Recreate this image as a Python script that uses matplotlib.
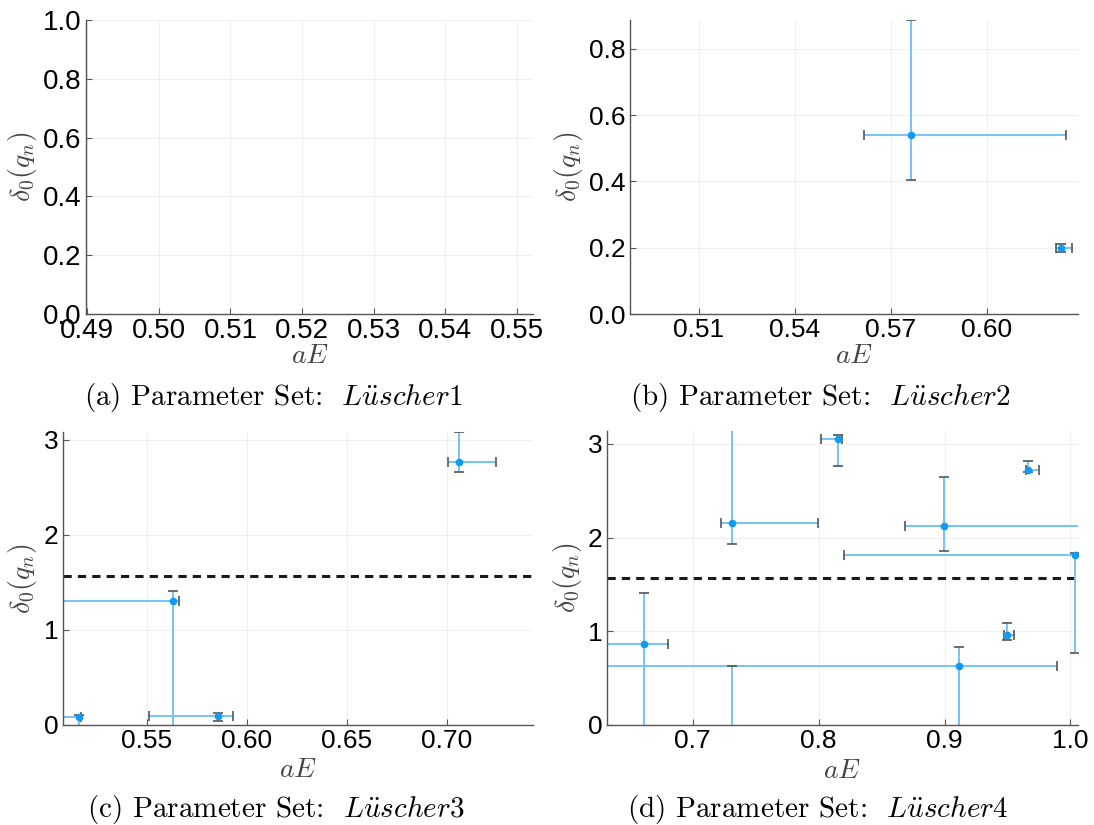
import numpy as np
import matplotlib.pyplot as plt
from matplotlib.ticker import FormatStrFormatter
from matplotlib.transforms import Bbox, TransformedBbox

plt.rcParams['font.family'] = ['Liberation Sans', 'DejaVu Sans']
plt.rcParams['mathtext.fontset'] = 'cm'

# phase shift delta_0(q_n) against aE, with asymmetric errors (minus / plus)
# Lüscher2
x2 = [0.5762, 0.6233]
y2 = [0.541, 0.198]
x2_lo = [0.0146, 0.0016]
x2_hi = [0.0487, 0.0033]
y2_lo = [0.137, 0.012]
y2_hi = [0.346, 0.012]

# Lüscher3
x3 = [0.5161, 0.5628, 0.5857, 0.7063]
y3 = [0.085, 1.303, 0.097, 2.765]
x3_lo = [0.012, 0.060, 0.0345, 0.0058]
x3_hi = [0.001, 0.0033, 0.0072, 0.0184]
y3_lo = [0.100, 1.400, 0.052, 0.108]
y3_hi = [0.025, 0.102, 0.032, 0.313]

# Lüscher4
x4 = [0.6614, 0.7311, 0.8156, 0.8994, 1.0039, 0.9497, 0.9664, 0.9117, 0.7311]
y4 = [0.869, 2.151, 3.049, 2.126, 1.814, 0.962, 2.719, 0.628, -0.300]
x4_lo = [0.040, 0.0086, 0.0139, 0.0309, 0.1836, 0.0022, 0.0020, 0.300, 0.0]
x4_hi = [0.0186, 0.0687, 0.0027, 0.150, 0.0050, 0.0056, 0.0086, 0.0775, 0.0]
y4_lo = [0.900, 0.217, 0.288, 0.273, 1.041, 0.057, 0.021, 0.700, 0.200]
y4_hi = [0.543, 1.200, 0.046, 0.518, 0.018, 0.124, 0.099, 0.203, 0.928]

resonance = np.pi / 2

line_blue = '#74c4f4'
dot_blue = '#0f9bf2'
cap_grey = '#555555'
axis_grey = '#555555'

W, H = 1094, 825
fig = plt.figure(figsize=(W / 100, H / 100), dpi=100)


def px_axes(left, top, right, bottom):
    return fig.add_axes([left / W, 1 - bottom / H, (right - left) / W, (bottom - top) / H])


def style(ax, size):
    for side in ['top', 'right']:
        ax.spines[side].set_visible(False)
    for side in ['left', 'bottom']:
        ax.spines[side].set_color(axis_grey)
        ax.spines[side].set_linewidth(1.0)
    ax.grid(True, color='#f0f0f0', lw=0.8)
    ax.set_axisbelow(True)
    ax.tick_params(direction='in', length=4, color=axis_grey, labelsize=size, pad=3)


def draw_points(ax, x, y, xlo, xhi, ylo, yhi):
    x, y = np.asarray(x), np.asarray(y)
    xlo, xhi = np.asarray(xlo), np.asarray(xhi)
    ylo, yhi = np.asarray(ylo), np.asarray(yhi)
    ax.errorbar(x, y, xerr=[xlo, xhi], yerr=[ylo, yhi], fmt='none',
                ecolor=line_blue, elinewidth=1.4, capsize=0, zorder=2)
    caps = dict(ls='none', ms=7, mew=1.2, color=cap_grey, zorder=3)
    ax.plot(x - xlo, y, marker='|', **caps)
    ax.plot(x + xhi, y, marker='|', **caps)
    ax.plot(x, y - ylo, marker='_', **caps)
    ax.plot(x, y + yhi, marker='_', **caps)
    ax.plot(x, y, 'o', ms=4.5, color=dot_blue, zorder=4)


def labels(ax, xl_y, yl_x, clip_px):
    ax.set_xlabel('$aE$', fontsize=20, color='#444444')
    ax.set_ylabel(r'$\delta_0(q_n)$', fontsize=20, color='#444444')
    ax.xaxis.label.set(va='center', ha='center')
    ax.yaxis.label.set(va='center', ha='center')
    ax.xaxis.set_label_coords(0.5, xl_y)
    ax.yaxis.set_label_coords(yl_x, 0.5)
    box = TransformedBbox(Bbox.from_extents(0, 1 - clip_px / H, 1, 1), fig.transFigure)
    ax.xaxis.label.set_clip_box(box)
    ax.xaxis.label.set_clip_on(True)


# (a) Lüscher1: no data points
ax1 = px_axes(86, 20, 533, 314)
style(ax1, 20)
ax1.set_xlim(0.4898, 0.5523)
ax1.set_ylim(0, 1.0)
ax1.set_xticks(np.arange(0.49, 0.5505, 0.01))
ax1.set_yticks(np.arange(0, 1.01, 0.2))
ax1.xaxis.set_major_formatter(FormatStrFormatter('%.2f'))
ax1.yaxis.set_major_formatter(FormatStrFormatter('%.1f'))
labels(ax1, -0.143, -0.1416, 364)

# (b) Lüscher2
ax2 = px_axes(629.5, 20, 1077.5, 314)
style(ax2, 19)
draw_points(ax2, x2, y2, x2_lo, x2_hi, y2_lo, y2_hi)
ax2.set_xlim(0.4883, 0.6284)
ax2.set_ylim(0, 0.887)
ax2.set_xticks([0.51, 0.54, 0.57, 0.60])
ax2.set_yticks([0.0, 0.2, 0.4, 0.6, 0.8])
ax2.xaxis.set_major_formatter(FormatStrFormatter('%.2f'))
ax2.yaxis.set_major_formatter(FormatStrFormatter('%.1f'))
labels(ax2, -0.143, -0.137, 364)

# (c) Lüscher3
ax3 = px_axes(63, 432, 533, 725)
style(ax3, 19)
ax3.axhline(resonance, color='#1a1a1a', lw=2.2, dashes=(2.7, 2.0), zorder=1)
draw_points(ax3, x3, y3, x3_lo, x3_hi, y3_lo, y3_hi)
ax3.set_xlim(0.508, 0.7432)
ax3.set_ylim(0, 3.08)
ax3.set_xticks([0.55, 0.60, 0.65, 0.70])
ax3.set_yticks([0, 1, 2, 3])
ax3.xaxis.set_major_formatter(FormatStrFormatter('%.2f'))
labels(ax3, -0.155, -0.0857, 778)

# (d) Lüscher4
ax4 = px_axes(607, 431, 1077.5, 725)
style(ax4, 19)
ax4.axhline(resonance, color='#1a1a1a', lw=2.2, dashes=(2.7, 2.0), zorder=1)
draw_points(ax4, x4, y4, x4_lo, x4_hi, y4_lo, y4_hi)
ax4.set_xlim(0.6319, 1.0056)
ax4.set_ylim(0, 3.137)
ax4.set_xticks([0.7, 0.8, 0.9, 1.0])
ax4.set_yticks([0, 1, 2, 3])
ax4.xaxis.set_major_formatter(FormatStrFormatter('%.1f'))
labels(ax4, -0.155, -0.083, 778)

captions = [
    (273, 397.5, 'a', '1'),
    (820, 397.5, 'b', '2'),
    (276, 809.5, 'c', '3'),
    (818, 809.5, 'd', '4'),
]
for cx, cy, tag, num in captions:
    fig.text(cx / W, 1 - cy / H,
             r'(%s) Parameter Set:  $\mathit{L\ddot{u}scher}%s$' % (tag, num),
             fontsize=21, family='cmr10', ha='center', va='center')

fig.savefig('out.png', dpi=100)
